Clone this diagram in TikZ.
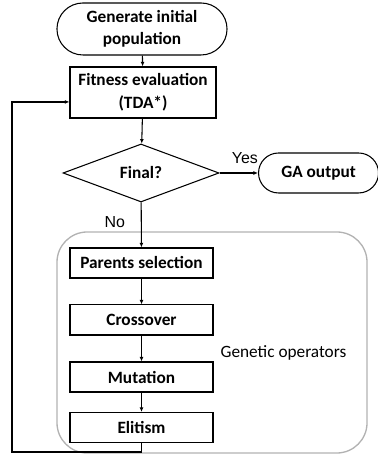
\documentclass[tikz,border=0pt]{standalone}
\usepackage{fontspec}
\setmainfont{Carlito}
\newfontfamily\labelfont{Liberation Sans}
\usetikzlibrary{calc,arrows.meta,shapes.geometric,shapes.misc}

\newcommand{\boxfont}{\fontsize{13}{17}\selectfont\bfseries}
\tikzset{
  box/.style={draw, rectangle, font=\boxfont, align=center, line width=0.8pt, inner sep=0pt},
  term/.style={draw, rounded rectangle, font=\boxfont, align=center, line width=0.8pt, inner sep=0pt},
  flow/.style={-{Latex[length=3.5pt,width=3pt]}, line width=0.8pt},
}

\begin{document}
\begin{tikzpicture}[font=\fontsize{13}{15.5}\selectfont]
  \useasboundingbox (0,0) rectangle (10,12.065);

  % grey group
  \draw[gray!60, line width=1pt, rounded corners=0.8cm] (1.508,0.079) rectangle (9.711,5.927);
  \node (gen) at (7.50,2.74) {Genetic operators};

  \node[term, minimum width=4.5cm, minimum height=1.376cm] (init) at (3.757,11.298) {Generate initial\\population};
  \node[box, minimum width=3.863cm, minimum height=1.349cm] (fit) at (3.784,9.618) {Fitness evaluation\\(TDA*)};
  \node[draw, diamond, font=\boxfont, line width=0.8pt, inner sep=0pt,
        minimum width=4.128cm, minimum height=1.535cm] (final) at (3.731,7.488) {Final?};
  \node[term, minimum width=3.175cm, minimum height=1.058cm] (out) at (8.428,7.488) {GA output};

  \node[box, minimum width=3.784cm, minimum height=0.794cm] (par) at (3.744,5.107) {Parents selection};
  \node[box, minimum width=3.784cm, minimum height=0.794cm] (cross) at (3.744,3.599) {Crossover};
  \node[box, minimum width=3.784cm, minimum height=0.794cm] (mut) at (3.744,2.090) {Mutation};
  \node[box, minimum width=3.784cm, minimum height=0.794cm] (elit) at (3.744,0.754) {Elitism};

  \node[font=\labelfont\fontsize{12}{14}\selectfont] (yes) at (6.48,7.88) {Yes};
  \node[font=\labelfont\fontsize{12}{14}\selectfont] (no) at (3.04,6.19) {No};

  \draw[flow] (init) -- (fit);
  \draw[flow] (fit) -- (final);
  \draw[flow] (final) -- (out);
  \draw[flow] (final) -- (par);
  \draw[flow] (par) -- (cross);
  \draw[flow] (cross) -- (mut);
  \draw[flow] (mut) -- (elit);

  % loop back
  \coordinate (back) at (0.318,0.106);
  \draw[flow, line width=1.2pt] (elit.south) |- (back) |- ($(fit.west)+(0,-0.25)$);
\end{tikzpicture}
\end{document}
